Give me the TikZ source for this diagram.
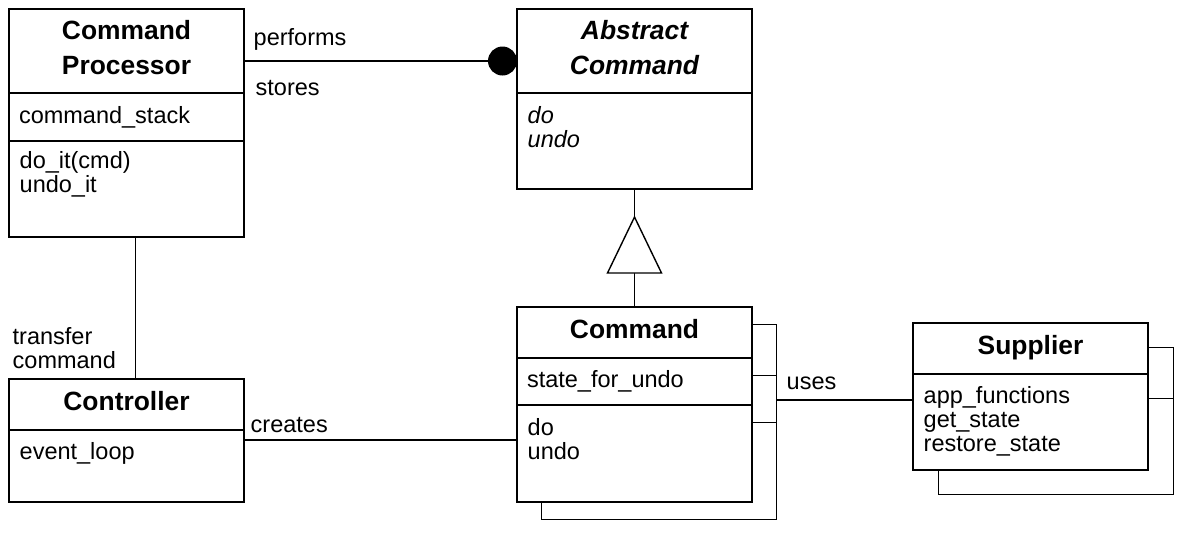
\documentclass[tikz,border=0pt]{standalone}
\usepackage{fontspec}
\setmainfont{Liberation Sans}
\usepackage{tikz}
\usetikzlibrary{positioning,calc,arrows.meta,backgrounds}
\newcommand*{\clsfont}{\fontsize{13.2}{17.5}\selectfont\bfseries}
\newcommand*{\txtfont}{\fontsize{11.75}{12}\selectfont}

\begin{document}
\begin{tikzpicture}[x=0.5pt,y=-0.5pt,line width=0.7pt,
  cls/.style={draw,fill=white,minimum width=117.5pt,inner sep=0pt,outer sep=0pt,
    anchor=north west},
  clstitle/.style={cls,font=\clsfont,align=center,text depth=3.3pt},
  clsattr/.style={cls,font=\txtfont,align=left,text width=107.5pt,inner xsep=5pt},
  opstext/.style={font=\txtfont,align=left,inner sep=0pt},
  lbl/.style={font=\txtfont,inner sep=0pt,anchor=base west},
  back/.style={draw,fill=white}]
\useasboundingbox (0,0) rectangle (1182,532);
% Command processor, top left
\node[clstitle,minimum height=42pt] (cptitle) at (9,9) {Command\\Processor};
\node[clsattr,minimum height=24pt] (cpattr) at (cptitle.south west) {command\_stack};
\node[cls,minimum height=48pt] (cpops) at (cpattr.south west) {};
\node[opstext,below right=5pt and 5pt of cpops.north west] (cpopstext)
  {do\_it(cmd)\\undo\_it};
% Abstract command, top right
\node[clstitle,font={\clsfont\itshape},minimum height=42pt] (actitle) at (517,9)
  {Abstract\\Command};
\node[cls,minimum height=48pt] (acops) at (actitle.south west) {};
\node[opstext,font={\txtfont\itshape},below right=6.5pt and 5pt of acops.north west]
  (acopstext) {do\\undo};
% Controller, bottom left
\node[clstitle,minimum height=25.5pt] (ctrltitle) at (9,379) {Controller};
\node[cls,minimum height=36pt] (ctrlattr) at (ctrltitle.south west) {};
\node[opstext,below right=6pt and 5pt of ctrlattr.north west] (ctrlattrtext)
  {event\_loop};
% Command, bottom middle
\node[clstitle,minimum height=25.5pt] (cmdtitle) at (517,307) {Command};
\node[clsattr,minimum height=23.5pt] (cmdattr) at (cmdtitle.south west) {state\_for\_undo};
\node[cls,minimum height=48.5pt] (cmdops) at (cmdattr.south west) {};
\node[opstext,below right=6.5pt and 5pt of cmdops.north west] (cmdopstext) {do\\undo};
% Supplier, bottom right
\node[clstitle,minimum height=25.5pt] (suptitle) at (913,323) {Supplier};
\node[cls,minimum height=48pt] (supops) at (suptitle.south west) {};
\node[opstext,below right=6pt and 5pt of supops.north west] (supopstext)
  {app\_functions\\get\_state\\restore\_state};
% Stacked copies behind Command and Supplier
\begin{scope}[on background layer]
\draw[back] ([shift={(24,17)}]cmdtitle.north west) rectangle
  ([shift={(24,17)}]cmdops.south east) coordinate (cmdback);
\draw ([shift={(24,17)}]cmdattr.north west) -- ([shift={(24,17)}]cmdattr.north east);
\draw ([shift={(24,17)}]cmdops.north west) -- ([shift={(24,17)}]cmdops.north east);
\draw[back] ([shift={(25,24)}]suptitle.north west) rectangle
  ([shift={(25,24)}]supops.south east);
\draw ([shift={(25,24)}]supops.north west) -- ([shift={(25,24)}]supops.north east);
\end{scope}
% Connectors
\draw[-{Circle[length=14.5pt]}] ([yshift=-5pt]cptitle.east) -- ([yshift=-5pt]actitle.west);
\draw ([xshift=4.5pt]cpops.south) -- ([xshift=4.5pt]ctrltitle.north);
\draw ([yshift=-5pt]ctrlattr.north east) -- ([yshift=-5pt]ctrlattr.north east -| cmdops.west);
\draw ([yshift=11pt]supops.west) -- ([yshift=11pt]supops.west -| cmdback);
% Inheritance triangle
\draw (cmdtitle.north) -- (acops.south);
\draw[fill=white] ([yshift=17pt]cmdtitle.north) -- ++(-27,0) -- ++(27,-56) -- ++(27,56)
  -- cycle;
% Labels
\node[lbl] (performs) at (253,45) {performs};
\node[lbl] (stores) at (255,95) {stores};
\node[opstext,anchor=north west] (transfer) at (12,327) {transfer\\command};
\node[lbl] (creates) at (250,432) {creates};
\node[lbl] (uses) at (786,389) {uses};
\end{tikzpicture}
\end{document}
